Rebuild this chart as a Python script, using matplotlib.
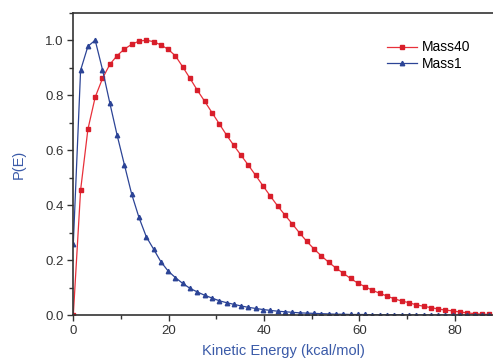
import numpy as np
import matplotlib
matplotlib.use("Agg")
from matplotlib import pyplot as plt
from matplotlib.ticker import MultipleLocator

plt.rcParams['font.family'] = ['Liberation Sans', 'DejaVu Sans']

# energy grid (kcal/mol), step
energy = np.arange(0, 88, 1.53)

mass40 = [0.0, 0.455, 0.676, 0.793, 0.861, 0.912, 0.944, 0.968, 0.985, 0.997,
          1.0, 0.995, 0.983, 0.967, 0.943, 0.903, 0.861, 0.818, 0.778, 0.737,
          0.696, 0.655, 0.617, 0.581, 0.545, 0.508, 0.470, 0.433, 0.397, 0.364,
          0.332, 0.299, 0.268, 0.240, 0.215, 0.192, 0.171, 0.152, 0.133, 0.116,
          0.103, 0.090, 0.079, 0.069, 0.059, 0.051, 0.045, 0.037, 0.032, 0.027,
          0.022, 0.018, 0.015, 0.011, 0.008, 0.005, 0.003, 0.002]

mass1 = [0.26, 0.891, 0.978, 1.0, 0.893, 0.772, 0.655, 0.547, 0.44, 0.355,
         0.285, 0.24, 0.194, 0.16, 0.136, 0.115, 0.097, 0.084, 0.072, 0.062,
         0.052, 0.045, 0.039, 0.033, 0.028, 0.024, 0.020, 0.017, 0.014, 0.012,
         0.010, 0.008, 0.007, 0.006, 0.005, 0.004, 0.003, 0.003, 0.002, 0.002,
         0.002, 0.001, 0.001, 0.001, 0.001, 0.001, 0.0, 0.0, 0.0, 0.0,
         0.0, 0.0, 0.0, 0.0, 0.0, 0.0, 0.0, 0.0]

red = "#e8303a"
blue = "#2c4496"
axis_blue = "#3a5aa8"

fig = plt.figure(figsize=(4.93, 3.58), dpi=100)
ax = fig.add_axes([0.1487, 0.120, 0.8513, 0.8443])

ax.plot(energy, mass40, color=red, lw=0.9, marker="s", ms=2.4,
        mfc="#d81e2a", mec="#d81e2a", label="Mass40")
ax.plot(energy, mass1, color=blue, lw=0.9, marker="^", ms=3.2,
        mfc=blue, mec=blue, label="Mass1")

ax.set_xlim(0, 88)
ax.set_ylim(0, 1.1)
ax.xaxis.set_major_locator(MultipleLocator(20))
ax.xaxis.set_minor_locator(MultipleLocator(10))
ax.yaxis.set_major_locator(MultipleLocator(0.2))
ax.yaxis.set_minor_locator(MultipleLocator(0.1))
ax.yaxis.set_major_formatter(matplotlib.ticker.FormatStrFormatter("%.1f"))

ax.tick_params(which="both", direction="out", colors="#333333", labelsize=9.5,
               width=1.0)
ax.tick_params(which="major", length=4, pad=3)
ax.tick_params(which="minor", length=3)
ax.spines["right"].set_visible(False)
for s in ["left", "bottom", "top"]:
    ax.spines[s].set_color("#333333")
    ax.spines[s].set_linewidth(1.2)

ax.set_xlabel("Kinetic Energy (kcal/mol)", color=axis_blue, fontsize=10.5,
              labelpad=5)
ax.set_ylabel("P(E)", color=axis_blue, fontsize=10.5, labelpad=14)

ax.legend(loc="upper right", bbox_to_anchor=(0.975, 0.95), frameon=False,
          fontsize=10, handlelength=2.2, handletextpad=0.3, labelspacing=0.2)

fig.savefig("out.png", dpi=100)
